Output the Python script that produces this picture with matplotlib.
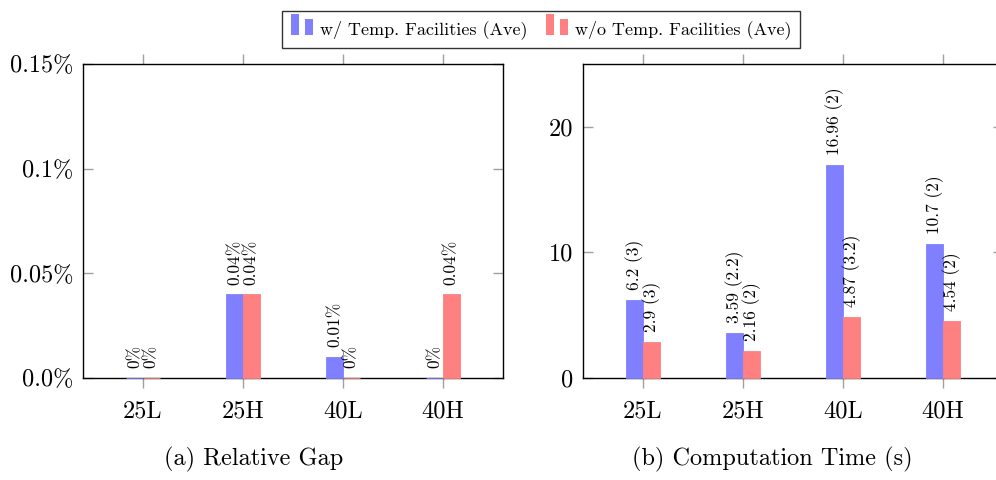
import matplotlib
matplotlib.use("Agg")
import matplotlib.pyplot as plt
from matplotlib.patches import Rectangle
from matplotlib.legend_handler import HandlerBase

plt.rcParams['font.family'] = ['cmr10', 'DejaVu Serif']
plt.rcParams['mathtext.fontset'] = 'cm'
plt.rcParams['axes.formatter.use_mathtext'] = True

categories = ['25L', '25H', '40L', '40H']

# relative gap (%)
gap_with = [0.0, 0.04, 0.01, 0.0]
gap_without = [0.0, 0.04, 0.0, 0.04]
gap_with_lbl = ['0%', '0.04%', '0.01%', '0%']
gap_without_lbl = ['0%', '0.04%', '0%', '0.04%']
gap_ticks = [0.0, 0.05, 0.1, 0.15]
gap_ticklabels = ['0.0%', '0.05%', '0.1%', '0.15%']

# computation time (s), with value in parentheses
time_with = [6.2, 3.59, 16.96, 10.7]
time_with_par = ['3', '2.2', '2', '2']
time_without = [2.9, 2.16, 4.87, 4.54]
time_without_par = ['3', '2', '3.2', '2']
time_ticks = [0, 10, 20]

blue = '#8080ff'
red = '#ff8080'
W, H = 996, 480
bw = 1 / 6
big = 17.5
small = 12.5


class TwoBars(HandlerBase):
    # pgfplots-style ybar legend image: two little bars
    def create_artists(self, legend, orig, xd, yd, width, height, fontsize, trans):
        c = orig.get_facecolor()
        r1 = Rectangle((xd, yd - 1), 5.8, 15.8, facecolor=c, edgecolor='none', transform=trans)
        r2 = Rectangle((xd + 10.2, yd - 1), 5.8, 12, facecolor=c, edgecolor='none', transform=trans)
        return [r1, r2]


def style(ax, ylim):
    ax.set_xlim(-0.6, 3.6)
    ax.set_ylim(*ylim)
    ax.set_xticks(range(len(categories)))
    ax.set_xticklabels(categories, fontsize=big)
    ax.tick_params(axis='x', direction='out', length=7, color='#a0a0a0',
                   top=True, bottom=True, pad=9, width=1)
    ax.tick_params(axis='y', direction='in', length=7, color='#a0a0a0',
                   left=True, right=True, pad=7, labelsize=big, width=1)
    for s in ax.spines.values():
        s.set_linewidth(1.0)
        s.set_color('black')


def bars(ax, xs, vals, color):
    # zorder above the spine so that zero-height bars show as a coloured line
    return ax.bar(xs, vals, bw, color=color, edgecolor=color, linewidth=0.6,
                  zorder=3, clip_on=False)


fig = plt.figure(figsize=(W / 100, H / 100), dpi=100)
ax1 = fig.add_axes([83 / W, (H - 378) / H, 420 / W, 314 / H])
ax2 = fig.add_axes([583 / W, (H - 378) / H, 420 / W, 314 / H])

x = list(range(len(categories)))
xa = [i - bw / 2 for i in x]
xb = [i + bw / 2 for i in x]

b1 = bars(ax1, xa, gap_with, blue)
b2 = bars(ax1, xb, gap_without, red)
for xi, v, t in zip(xa, gap_with, gap_with_lbl):
    ax1.annotate(t, (xi, v), xytext=(0, 7), textcoords='offset points',
                 rotation=90, ha='center', va='bottom', fontsize=small)
for xi, v, t in zip(xb, gap_without, gap_without_lbl):
    ax1.annotate(t, (xi, v), xytext=(0, 7), textcoords='offset points',
                 rotation=90, ha='center', va='bottom', fontsize=small)
style(ax1, (0, 0.15))
ax1.set_yticks(gap_ticks)
ax1.set_yticklabels(gap_ticklabels)

bars(ax2, xa, time_with, blue)
bars(ax2, xb, time_without, red)
for xi, v, p in zip(xa, time_with, time_with_par):
    ax2.annotate(f'{v:g} ({p})', (xi, v), xytext=(0, 7), textcoords='offset points',
                 rotation=90, ha='center', va='bottom', fontsize=small)
for xi, v, p in zip(xb, time_without, time_without_par):
    ax2.annotate(f'{v:g} ({p})', (xi, v), xytext=(0, 7), textcoords='offset points',
                 rotation=90, ha='center', va='bottom', fontsize=small)
style(ax2, (0, 25))
ax2.set_yticks(time_ticks)
ax2.set_yticklabels([str(t) for t in time_ticks])

h1, h2 = b1.patches[0], b2.patches[0]
leg = fig.legend([h1, h2], ['w/ Temp. Facilities (Ave)', 'w/o Temp. Facilities (Ave)'],
                 loc='upper center', bbox_to_anchor=(541 / W, 1 - 2 / H),
                 ncol=2, fontsize=13, frameon=True, fancybox=False, edgecolor='black',
                 handler_map={h1: TwoBars(), h2: TwoBars()}, handlelength=1.3,
                 handletextpad=0.3, columnspacing=1.05, borderpad=0.5)
leg.get_frame().set_linewidth(1.0)

fig.text(254 / W, 1 - 459 / H, '(a) Relative Gap', ha='center', va='center', fontsize=big)
fig.text(772 / W, 1 - 459 / H, '(b) Computation Time (s)', ha='center', va='center', fontsize=big)

fig.savefig('out.png', dpi=100)
